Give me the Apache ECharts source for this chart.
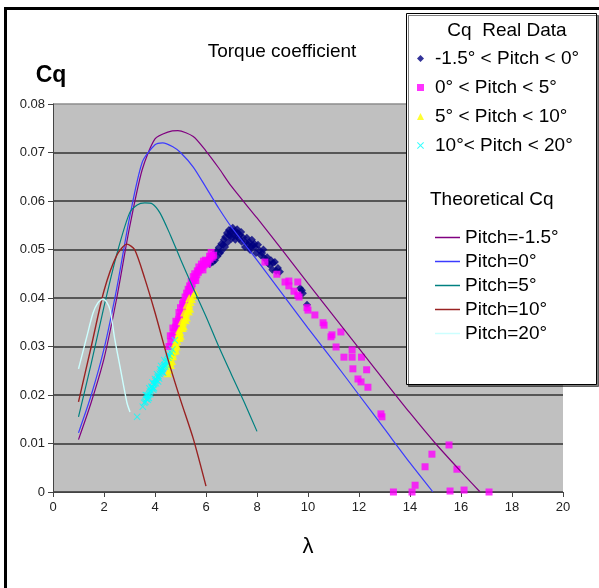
<!DOCTYPE html>
<html>
<head>
<meta charset="utf-8">
<script src="https://cdn.jsdelivr.net/npm/echarts@6/dist/echarts.min.js"></script>
<style>
  html, body { margin: 0; padding: 0; background: #fff; }
  #chart { width: 599px; height: 588px; }
</style>
</head>
<body>
<div id="chart"></div>
<script>
// theoretical curves [lambda, Cq]
const pitchM15 = [[1.0,0.0108],[1.5,0.0185],[2.0,0.0275],[2.5,0.0400],[3.0,0.0545],[3.5,0.0665],[4.0,0.0728],[4.5,0.0742],[4.9,0.0745],[5.5,0.0733],[6.0,0.0703],[6.5,0.0668],[7.0,0.0630],[8.0,0.0565],[9.0,0.0498],[10.0,0.0430],[11.0,0.0363],[12.0,0.0296],[13.0,0.0229],[14.0,0.0163],[15.0,0.0100],[16.0,0.0042],[16.75,0.0]];
const pitch0 = [[1.0,0.0122],[1.5,0.0200],[2.0,0.0295],[2.5,0.0420],[3.0,0.0565],[3.5,0.0680],[4.0,0.0716],[4.3,0.0720],[4.7,0.0712],[5.0,0.0700],[5.5,0.0670],[6.0,0.0628],[6.5,0.0585],[7.0,0.0546],[8.0,0.0478],[9.0,0.0408],[10.0,0.0338],[11.0,0.0270],[12.0,0.0200],[13.0,0.0130],[14.0,0.0060],[14.9,0.0]];
const pitch5 = [[1.0,0.0155],[1.5,0.0265],[2.0,0.0382],[2.5,0.0490],[3.0,0.0575],[3.3,0.0592],[3.6,0.0596],[3.9,0.0594],[4.2,0.0575],[4.6,0.0530],[5.0,0.0480],[5.5,0.0420],[6.0,0.0362],[6.5,0.0300],[7.0,0.0242],[7.5,0.0185],[8.0,0.0125]];
const pitch10 = [[1.0,0.0186],[1.5,0.0300],[2.0,0.0415],[2.5,0.0488],[2.9,0.0511],[3.2,0.0500],[3.6,0.0440],[4.0,0.0370],[4.5,0.0275],[5.0,0.0190],[5.5,0.0110],[6.0,0.0012]];
const pitch20 = [[1.0,0.0254],[1.3,0.0315],[1.57,0.0369],[1.76,0.0390],[1.96,0.0398],[2.1,0.0392],[2.24,0.0375],[2.43,0.0313],[2.63,0.0258],[2.9,0.0184],[3.02,0.0165]];

// measured data [lambda, Cq]
const realM15to0 = [[6.20,0.0480],[6.27,0.0474],[6.30,0.0490],[6.40,0.0496],[6.50,0.0504],[6.55,0.0493],[6.60,0.0512],[6.67,0.0510],[6.70,0.0520],[6.75,0.0526],[6.82,0.0534],[6.90,0.0530],[6.95,0.0536],[7.00,0.0522],[7.06,0.0537],[7.14,0.0538],[7.20,0.0528],[7.25,0.0534],[7.33,0.0530],[7.40,0.0516],[7.45,0.0525],[7.53,0.0505],[7.60,0.0524],[7.65,0.0510],[7.73,0.0499],[7.80,0.0520],[7.85,0.0508],[7.92,0.0505],[7.96,0.0493],[8.04,0.0510],[8.10,0.0498],[8.20,0.0493],[8.30,0.0482],[8.43,0.0472],[8.55,0.0478],[8.60,0.0458],[8.63,0.0472],[8.70,0.0474],[8.82,0.0462],[8.90,0.0454],[9.69,0.0420],[9.76,0.0416],[9.80,0.0410],[9.96,0.0386],
  [6.10,0.0478],[6.15,0.0470],[6.35,0.0478],[6.45,0.0486],[6.60,0.0497],[6.75,0.0505],[6.85,0.0515],[6.95,0.0528],[7.10,0.0530],[7.15,0.0520],[7.30,0.0522],[7.38,0.0536],[7.55,0.0515],[7.70,0.0515],[7.75,0.0505],[7.90,0.0512],[8.15,0.0488],[8.25,0.0500],[8.40,0.0484],[8.50,0.0468],[8.75,0.0456],[7.05,0.0545],[6.90,0.0540],[7.22,0.0542]];
const real0to5 = [[4.62,0.0310],[4.68,0.0322],[4.74,0.0330],[4.80,0.0340],[4.86,0.0348],[4.92,0.0356],[4.98,0.0362],[5.04,0.0370],[5.10,0.0378],[5.16,0.0386],[5.22,0.0395],[5.28,0.0405],[5.34,0.0414],[5.40,0.0422],[5.46,0.0430],[5.52,0.0436],[5.58,0.0442],[5.64,0.0448],[5.70,0.0453],[5.76,0.0458],[5.84,0.0463],[5.92,0.0468],[6.00,0.0472],[6.08,0.0476],[6.16,0.0480],[6.24,0.0484],[6.30,0.0488],[5.00,0.0380],[5.12,0.0392],[5.24,0.0410],[5.36,0.0425],[5.50,0.0444],[5.66,0.0456],[5.82,0.0470],[5.98,0.0478],[6.14,0.0486],[4.90,0.0342],[5.06,0.0362],[5.20,0.0380],[5.44,0.0418],[5.60,0.0436],[5.88,0.0458],[6.06,0.0470],
  [4.55,0.0300],[4.60,0.0322],[4.70,0.0338],[4.82,0.0352],[4.94,0.0370],[5.08,0.0388],[5.18,0.0402],[5.30,0.0418],[5.42,0.0434],[5.56,0.0450],[5.72,0.0464],[5.90,0.0476],[6.20,0.0494],
  [8.31,0.0474],[8.78,0.0449],[9.10,0.0433],[9.25,0.0435],[9.60,0.0433],[9.25,0.0425],[9.45,0.0414],[9.60,0.0406],[9.65,0.0402],[9.96,0.0380],[10.00,0.0375],[10.27,0.0365],[10.59,0.0349],[10.63,0.0344],[11.29,0.0330],[10.94,0.0324],[10.90,0.0320],[11.10,0.0299],[11.73,0.0293],[11.41,0.0278],[11.73,0.0278],[12.10,0.0278],[11.76,0.0254],[12.30,0.0252],[11.96,0.0233],[12.08,0.0227],[12.35,0.0216],[12.86,0.0161],[12.90,0.0155],[15.53,0.0097],[14.86,0.0078],[14.59,0.0052],[15.84,0.0047],[14.20,0.0014],[13.35,0.0],[14.08,0.0],[15.57,0.0002],[16.12,0.0004],[17.10,0.0]];
const real5to10 = [[4.50,0.0245],[4.57,0.0252],[4.63,0.0262],[4.67,0.0270],[4.71,0.0280],[4.75,0.0290],[4.79,0.0298],[4.83,0.0305],[4.87,0.0312],[4.91,0.0318],[4.95,0.0325],[4.99,0.0330],[5.03,0.0338],[5.07,0.0344],[5.11,0.0350],[5.15,0.0356],[5.19,0.0362],[5.23,0.0368],[5.27,0.0374],[5.31,0.0380],[5.35,0.0386],[5.40,0.0392],[5.45,0.0398],[5.50,0.0404],[5.57,0.0412],[4.85,0.0300],[4.97,0.0318],[5.09,0.0338],[5.21,0.0354],[5.33,0.0372],[4.77,0.0305],[4.93,0.0328],[4.60,0.0268],[4.70,0.0285],[4.82,0.0292],[5.01,0.0322],[5.13,0.0342],[5.25,0.0360],[5.38,0.0378],
  [4.55,0.0262],[4.65,0.0280],[4.74,0.0296],[4.84,0.0315],[4.94,0.0334],[5.04,0.0352],[5.14,0.0370],[5.24,0.0386],[5.34,0.0400]];
const real10to20 = [[3.30,0.0155],[3.52,0.0176],[3.58,0.0184],[3.62,0.0186],[3.66,0.0192],[3.70,0.0194],[3.73,0.0199],[3.77,0.0201],[3.80,0.0207],[3.84,0.0209],[3.88,0.0214],[3.91,0.0216],[3.95,0.0222],[3.99,0.0224],[4.02,0.0229],[4.06,0.0231],[4.10,0.0237],[4.14,0.0239],[4.18,0.0244],[4.22,0.0247],[4.26,0.0252],[4.30,0.0254],[4.34,0.0259],[4.38,0.0262],[4.42,0.0268],[4.47,0.0271],[4.52,0.0277],[4.57,0.0281],[4.63,0.0287],[4.68,0.0294],[4.78,0.0313],[3.72,0.0190],[3.82,0.0202],[3.93,0.0211],[4.04,0.0224],[4.16,0.0234],[4.28,0.0248],[4.40,0.0259],[3.68,0.0199],[3.86,0.0217],[4.00,0.0233],[4.20,0.0253],
  [3.64,0.0200],[3.78,0.0214],[3.90,0.0226],[4.08,0.0243],[4.24,0.0260],[4.36,0.0272],[4.50,0.0284],[3.76,0.0194],[3.96,0.0214],[4.12,0.0228],[4.32,0.0246],[4.46,0.0262]];

const realNames = ['-1.5° < Pitch < 0°', '0° < Pitch < 5°', '5° < Pitch < 10°', '10°< Pitch < 20°'];
const theoNames = ['Pitch=-1.5°', 'Pitch=0°', 'Pitch=5°', 'Pitch=10°', 'Pitch=20°'];

const FONT = '"Liberation Sans", Arial, sans-serif';
const crossPath = 'path://M0,1L1,0L5,4L9,0L10,1L6,5L10,9L9,10L5,6L1,10L0,9L4,5Z';

function scatter(name, data, symbol, size, color) {
  return { type: 'scatter', name, data, symbol, symbolSize: size, itemStyle: { color }, z: 2, animation: false };
}
function curve(name, data, color, width) {
  return { type: 'line', name, data, smooth: 0.25, symbol: 'none', lineStyle: { color, width }, itemStyle: { color }, z: 3, animation: false };
}

const chart = echarts.init(document.getElementById('chart'));
chart.setOption({
  animation: false,
  textStyle: { fontFamily: FONT },
  grid: { left: 53, right: 36, top: 104, bottom: 96, show: true, backgroundColor: '#c0c0c0', borderWidth: 0 },
  xAxis: {
    type: 'value', min: 0, max: 20, interval: 2,
    name: 'λ', nameLocation: 'middle', nameGap: 44,
    nameTextStyle: { fontSize: 22, color: '#000', fontFamily: FONT },
    axisLine: { lineStyle: { color: '#444' } },
    axisTick: { length: 5, lineStyle: { color: '#444' } },
    axisLabel: { fontSize: 13, color: '#222', margin: 9 },
    splitLine: { show: false }
  },
  yAxis: {
    type: 'value', min: 0, max: 0.08, interval: 0.01,
    axisLine: { show: true, lineStyle: { color: '#444' } },
    axisTick: { show: true, length: 5, lineStyle: { color: '#444' } },
    axisLabel: { fontSize: 13, color: '#222', margin: 8 },
    splitLine: { lineStyle: { color: ['#333','#333','#333','#333','#333','#333','#333','#333','#8c8c8c'], width: 1.6 } }
  },
  legend: [
    {
      data: realNames, orient: 'vertical', left: 417, top: 49, padding: 0,
      itemWidth: 7, itemHeight: 7, itemGap: 10, selectedMode: false,
      textStyle: { fontSize: 19, color: '#000', fontFamily: FONT, padding: [0, 0, 0, 6] }, z: 6
    },
    {
      data: theoNames.map((name) => ({ name, icon: 'rect' })),
      orient: 'vertical', left: 435, top: 228, padding: 0,
      itemWidth: 25, itemHeight: 1.5, itemGap: 5, selectedMode: false,
      textStyle: { fontSize: 19, color: '#000', fontFamily: FONT }, z: 6
    }
  ],
  graphic: [
    { type: 'rect', z: 4, shape: { x: 406.5, y: 13.5, width: 190, height: 371 },
      style: { fill: '#fff', stroke: '#000', lineWidth: 1, shadowColor: 'rgba(0,0,0,0.5)', shadowOffsetX: 2, shadowOffsetY: 2, shadowBlur: 0 } },
    { type: 'text', z: 6, x: 507, y: 31, style: { text: 'Cq  Real Data', font: '19px ' + FONT, fill: '#000', textAlign: 'center', textVerticalAlign: 'middle' } },
    { type: 'text', z: 6, x: 430, y: 200, style: { text: 'Theoretical Cq', font: '19px ' + FONT, fill: '#000', textAlign: 'left', textVerticalAlign: 'middle' } },
    { type: 'text', z: 6, x: 282, y: 52, style: { text: 'Torque coefficient', font: '19px ' + FONT, fill: '#000', textAlign: 'center', textVerticalAlign: 'middle' } },
    { type: 'text', z: 6, x: 51, y: 76, style: { text: 'Cq', font: 'bold 23px ' + FONT, fill: '#000', textAlign: 'center', textVerticalAlign: 'middle' } },
    { type: 'rect', z: 10, shape: { x: 5.5, y: 8.5, width: 700, height: 700 },
      style: { fill: 'none', stroke: '#000', lineWidth: 3 } }
  ],
  series: [
    scatter(realNames[0], realM15to0, 'diamond', 8, '#000080'),
    scatter(realNames[1], real0to5, 'rect', 7, '#ff00ff'),
    scatter(realNames[2], real5to10, 'triangle', 8, '#ffff00'),
    scatter(realNames[3], real10to20, crossPath, 7, '#00ffff'),
    curve(theoNames[0], pitchM15, '#800080', 1.2),
    curve(theoNames[1], pitch0, '#3b3bff', 1.2),
    curve(theoNames[2], pitch5, '#008080', 1.2),
    curve(theoNames[3], pitch10, '#992222', 1.4),
    curve(theoNames[4], pitch20, '#ccffff', 1.4)
  ]
});
</script>
</body>
</html>
